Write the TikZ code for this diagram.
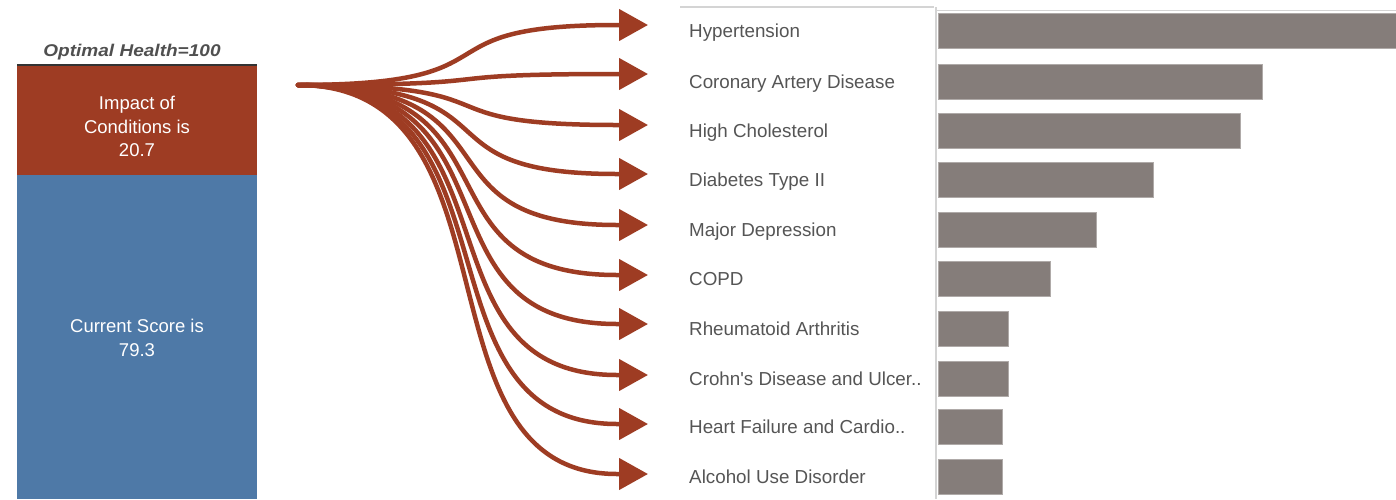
\documentclass[tikz,border=0pt]{standalone}
\usepackage{fontspec}
\setmainfont{Liberation Sans}
\newfontfamily\titlefont{Liberation Sans}[FakeStretch=1.12]
\usetikzlibrary{arrows.meta}
\definecolor{cRed}{RGB}{158,60,35}
\definecolor{cBlue}{RGB}{78,121,167}
\definecolor{cBar}{RGB}{133,125,122}
\definecolor{cBarEdge}{RGB}{175,170,168}
\definecolor{cLabel}{RGB}{85,85,85}
\definecolor{cTitle}{RGB}{80,80,80}
\definecolor{cGrid}{RGB}{212,212,212}
\tikzset{
  lbl/.style={anchor=base west, text=cLabel, inner sep=0pt, font=\fontsize{18.8}{22}\selectfont},
  boxtxt/.style={text=white, align=center, inner sep=0pt, font=\fontsize{18.5}{23.5}\selectfont},
  barfill/.style={fill=cBar, draw=cBarEdge, line width=0.8pt},
  flow/.style={draw=cRed, line width=4.5pt, -{Triangle[length=29pt,width=31pt]}},
}
\begin{document}
\begin{tikzpicture}[x=1pt,y=-1pt]
\useasboundingbox[fill=white] (0,0) rectangle (1396,499);

% left stacked bar
\fill[cRed] (17,65) rectangle (257,175);
\fill[cBlue] (17,175) rectangle (257,499);
\draw[black!80, line width=2pt] (17,64.5) -- (257,64.5);
\node[font=\titlefont\fontsize{17}{20}\selectfont\bfseries\itshape, text=cTitle, anchor=base, inner sep=0pt] (title) at (132,56.5) {Optimal Health=100};
\node[boxtxt] (impact) at (137,126.5) {Impact of\\Conditions is\\20.7};
\node[boxtxt] (current) at (137,338) {Current Score is\\79.3};

% grid lines of the table
\draw[cGrid, line width=1.2pt] (680,7) -- (934,7);
\draw[cGrid, line width=1pt] (936,10) -- (1396,10);
\draw[cGrid, line width=1.5pt] (936,7) -- (936,499);

% flows
\coordinate (src) at (298,85);
\foreach \i/\y in {1/25,2/74,3/125,4/174,5/225,6/275,7/324,8/375,9/424,10/474}{
  \coordinate (e\i) at (648,\y);
  \draw[flow, line cap=round] (src) .. controls (528,85) and (408,\y) .. (617,\y) -- (e\i);
}

% labels and bars
\foreach \i/\c/\r/\t in {
  1/31/1396/Hypertension,
  2/81.5/1262/Coronary Artery Disease,
  3/130.5/1240/High Cholesterol,
  4/180/1153/Diabetes Type II,
  5/229.5/1096/Major Depression,
  6/278.5/1050/COPD,
  7/328.5/1008/Rheumatoid Arthritis,
  8/378.5/1008/Crohn\textquotesingle s Disease and Ulcer..,
  9/426.5/1002/Heart Failure and Cardio..,
  10/476.5/1002/Alcohol Use Disorder}{
  \node[lbl] (l\i) at (689,\c+6.5) {\t};
  \path[barfill] (938,\c-17.5) rectangle (\r,\c+17.5);
}
\end{tikzpicture}
\end{document}
